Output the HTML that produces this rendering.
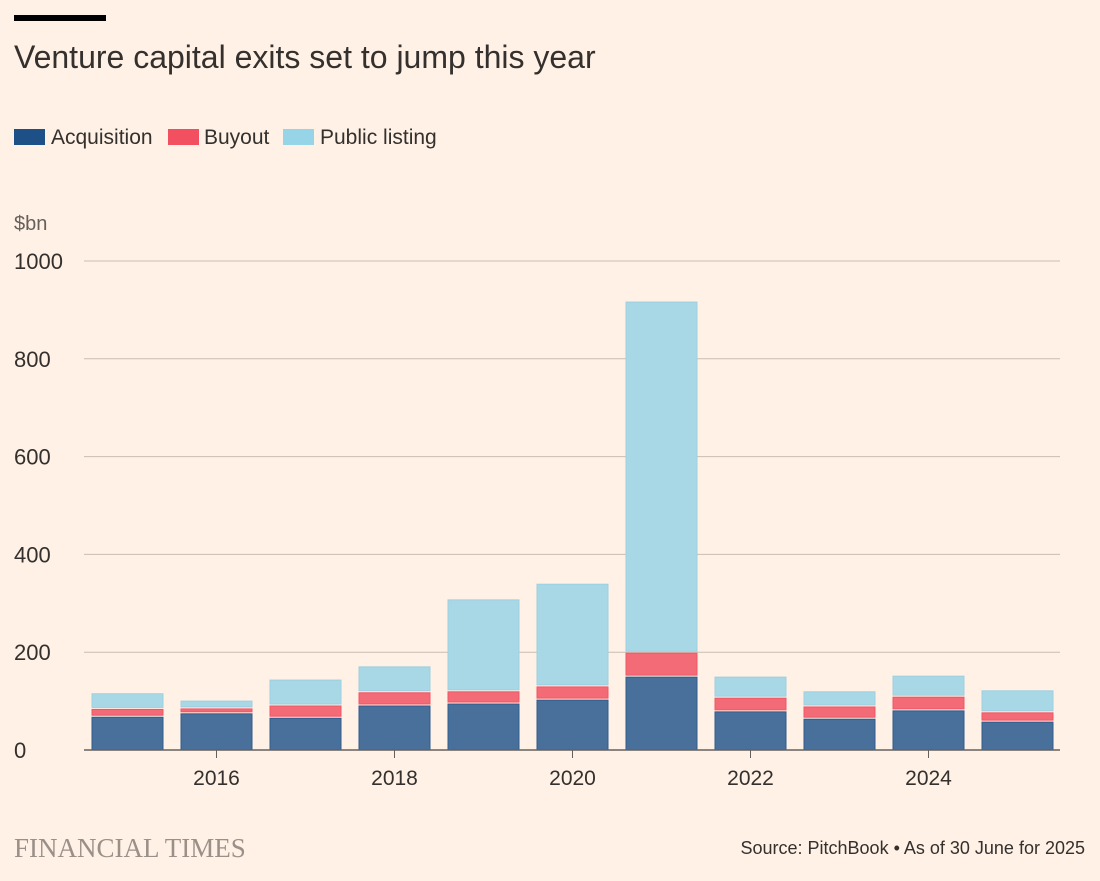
<!DOCTYPE html>
<html><head><meta charset="utf-8">
<style>
body{margin:0;background:#fff1e5;}
#wrap{position:relative;width:1100px;height:881px;background:#fff1e5;font-family:"Liberation Sans",sans-serif;color:#33302e;overflow:hidden}
.t{position:absolute;white-space:nowrap}
</style></head>
<body>
<div id="wrap">
<div class="t" style="left:14px;top:15px;width:92px;height:6px;background:#000"></div>
<div class="t" style="left:14px;top:39px;font-size:32px;color:#33302e">Venture capital exits set to jump this year</div>
<div class="t" style="left:14px;top:126px;font-size:21px"><span style="display:inline-block;width:31px;height:16px;background:#1e5088;vertical-align:-1px;margin-right:6px"></span>Acquisition</div>
<div class="t" style="left:168px;top:126px;font-size:21px"><span style="display:inline-block;width:31px;height:16px;background:#f24f61;vertical-align:-1px;margin-right:5px"></span>Buyout</div>
<div class="t" style="left:283px;top:126px;font-size:21px"><span style="display:inline-block;width:31px;height:16px;background:#96d4e8;vertical-align:-1px;margin-right:6px"></span>Public listing</div>
<div class="t" style="left:14px;top:213px;font-size:20px;color:#66605c">$bn</div>
<svg id="chart" width="1100" height="881" style="position:absolute;left:0;top:0"></svg>
<div class="t" style="left:14px;top:833px;font-family:'Liberation Serif',serif;font-size:27px;color:#9a9088">FINANCIAL TIMES</div>
<div class="t" style="right:15px;top:838px;font-size:18px;color:#33302e">Source: PitchBook • As of 30 June for 2025</div>
</div>
<script>
const years=[2015,2016,2017,2018,2019,2020,2021,2022,2023,2024,2025];
const acquisition=[67,74,65,90,94,102,149,78,63,80,57];
const buyout=[16,10,25,27,25,27,49,28,25,28,19];
const publicListing=[32,16,53,53,188,210,718,43,31,43,45];
const yTicks=[0,200,400,600,800,1000];
const xTicks=[2016,2018,2020,2022,2024];
const NS="http://www.w3.org/2000/svg";
const svg=document.getElementById('chart');
const y=v=>750-v*0.489;
const x=yr=>127.5+(yr-2015)*89;
const bw=71;
function mk(tag,attrs){const e=document.createElementNS(NS,tag);for(const k in attrs)e.setAttribute(k,attrs[k]);svg.appendChild(e);return e;}
yTicks.forEach(t=>{
  if(t>0){const g=mk('line',{x1:84,x2:1060,y1:y(t),y2:y(t),stroke:'#c9bdb1','stroke-width':1});
  
  }
  const l=mk('text',{x:14,y:y(t)+8,'font-size':22,fill:'#33302e','font-family':'Liberation Sans, sans-serif'});
  l.textContent=t;
  
  
});
const series=[[acquisition,'#48709a','#2f5c8c'],[buyout,'#f46b78','#f05565'],[publicListing,'#a8d8e6','#9ccfe0']];
years.forEach((yr,i)=>{
  let base=0;
  series.forEach(([arr,fill,stroke],si)=>{
    const v=arr[i];
    const top=y(base+v), bot=y(base);
    const r=mk('rect',{x:x(yr)-bw/2,y:top,width:bw,height:Math.max(0,bot-top-(si>0?2:0)),fill:fill,stroke:stroke,'stroke-width':1});
    
    
    base+=v;
  });
});
const ax=mk('line',{x1:84,x2:1060,y1:750,y2:750,stroke:'#66605c','stroke-width':1.5});


xTicks.forEach(t=>{
  const tk=mk('line',{x1:x(t),x2:x(t),y1:750,y2:758,stroke:'#66605c','stroke-width':1});
  
  
  const l=mk('text',{x:x(t),y:785,'font-size':21,fill:'#33302e','text-anchor':'middle','font-family':'Liberation Sans, sans-serif'});
  l.textContent=t;
  
  
});
</script>
</body></html>
